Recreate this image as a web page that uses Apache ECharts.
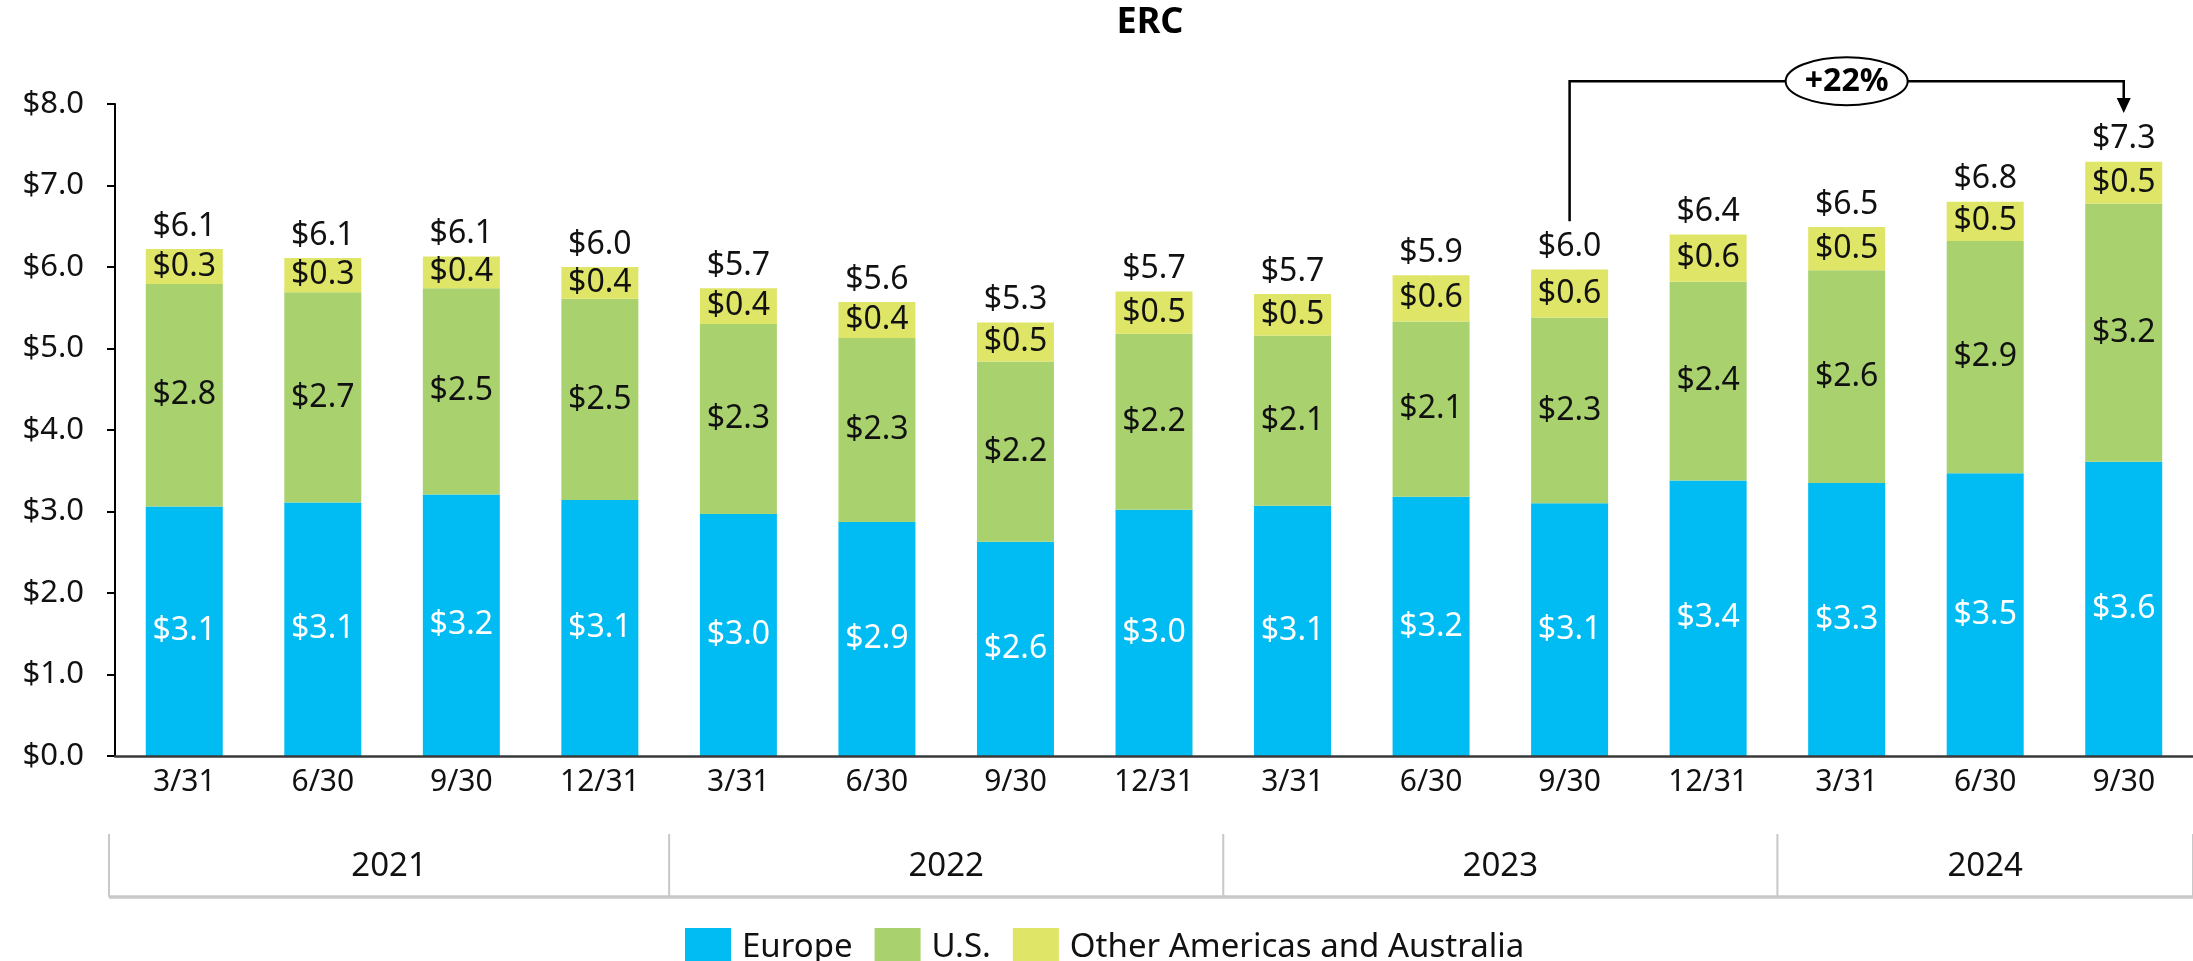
<!DOCTYPE html>
<html>
<head>
<meta charset="utf-8">
<script src="https://cdn.jsdelivr.net/npm/echarts@6/dist/echarts.min.js"></script>
<style>
html,body{margin:0;padding:0;background:#ffffff;}
#c{width:2193px;height:961px;}
</style>
</head>
<body>
<div id="c"></div>
<script>
// ---------- data ----------
const categories = ['3/31','6/30','9/30','12/31','3/31','6/30','9/30','12/31','3/31','6/30','9/30','12/31','3/31','6/30','9/30'];
const years = ['2021','2022','2023','2024'];
const quartersPerYear = [4, 4, 4, 3];

// segment heights as drawn in the picture
const europe = [3.06, 3.11, 3.21, 3.14, 2.97, 2.87, 2.63, 3.02, 3.07, 3.18, 3.10, 3.38, 3.35, 3.47, 3.61];
const us     = [2.73, 2.58, 2.53, 2.47, 2.33, 2.26, 2.21, 2.16, 2.09, 2.15, 2.28, 2.44, 2.61, 2.85, 3.17];
const other  = [0.43, 0.42, 0.39, 0.39, 0.44, 0.44, 0.48, 0.52, 0.51, 0.57, 0.59, 0.58, 0.53, 0.48, 0.51];

// printed labels
const europeLabels = ['$3.1','$3.1','$3.2','$3.1','$3.0','$2.9','$2.6','$3.0','$3.1','$3.2','$3.1','$3.4','$3.3','$3.5','$3.6'];
const usLabels     = ['$2.8','$2.7','$2.5','$2.5','$2.3','$2.3','$2.2','$2.2','$2.1','$2.1','$2.3','$2.4','$2.6','$2.9','$3.2'];
const otherLabels  = ['$0.3','$0.3','$0.4','$0.4','$0.4','$0.4','$0.5','$0.5','$0.5','$0.6','$0.6','$0.6','$0.5','$0.5','$0.5'];
const totalLabels  = ['$6.1','$6.1','$6.1','$6.0','$5.7','$5.6','$5.3','$5.7','$5.7','$5.9','$6.0','$6.4','$6.5','$6.8','$7.3'];

const seriesNames = ['Europe', 'U.S.', 'Other Americas and Australia'];
const colors = ['#00BCF2', '#A9D26F', '#DFE566'];

const growthLabel = '+22%';
const growthFromIndex = 10;
const growthToIndex = 14;
// annotation bracket levels in axis units
const bracketTop = 8.28, bracketStart = 6.56, bracketTip = 7.89;

// ---------- chart ----------
const FONT = '"Noto Sans", "Open Sans", sans-serif';
const totals = europe.map((v, i) => +(v + us[i] + other[i]).toFixed(3));

const chart = echarts.init(document.getElementById('c'), null, { renderer: 'canvas' });

function barSeries(name, data, labels, color, labelColor) {
  return {
    name: name,
    type: 'bar',
    stack: 'erc',
    data: data,
    barWidth: 77,
    itemStyle: { color: color },
    label: {
      show: true,
      position: 'inside',
      formatter: p => labels[p.dataIndex],
      fontFamily: FONT,
      fontSize: 32,
      color: labelColor
    },
    emphasis: { disabled: true }
  };
}

const option = {
  animation: false,
  backgroundColor: '#ffffff',
  grid: { left: 115, top: 104, width: 2081, height: 652 },
  legend: {
    data: seriesNames,
    top: 923,
    left: 680,
    icon: 'rect',
    itemWidth: 46,
    itemHeight: 40,
    itemGap: 22,
    textStyle: { fontFamily: FONT, fontSize: 33, color: '#111', padding: [0, 0, 0, 6] },
    selectedMode: false
  },
  xAxis: {
    type: 'category',
    data: categories,
    axisLine: { lineStyle: { color: '#3a3a3a', width: 2.5 } },
    axisTick: { show: false },
    axisLabel: { fontFamily: FONT, fontSize: 30, color: '#111', margin: 11 },
    z: 5
  },
  yAxis: {
    type: 'value',
    min: 0,
    max: 8,
    interval: 1,
    axisLine: { show: true, lineStyle: { color: '#000', width: 2 } },
    axisTick: { show: true, length: 8, lineStyle: { color: '#000', width: 2 } },
    splitLine: { show: false },
    axisLabel: {
      fontFamily: FONT, fontSize: 31, color: '#111', margin: 31,
      formatter: v => '$' + v.toFixed(1)
    }
  },
  series: [
    barSeries(seriesNames[0], europe, europeLabels, colors[0], '#ffffff'),
    barSeries(seriesNames[1], us, usLabels, colors[1], '#111111'),
    barSeries(seriesNames[2], other, otherLabels, colors[2], '#111111'),
    {
      name: 'Total',
      type: 'scatter',
      data: totals,
      symbolSize: 1,
      itemStyle: { color: '#ffffff', opacity: 1 },
      label: {
        show: true,
        position: 'top',
        distance: 6,
        formatter: p => totalLabels[p.dataIndex],
        fontFamily: FONT,
        fontSize: 32,
        color: '#111111',
        opacity: 1
      },
      emphasis: { disabled: true },
      z: 10
    }
  ]
};

chart.setOption(option);

// ---------- decorations positioned through the axes ----------
function px(i) { return chart.convertToPixel({ xAxisIndex: 0 }, i); }
function py(v) { return chart.convertToPixel({ yAxisIndex: 0 }, v); }

const step = px(1) - px(0);
const graphics = [];

// title, centred over the plot
graphics.push({
  type: 'text',
  style: {
    text: 'ERC', x: (px(0) + px(categories.length - 1)) / 2 - 4, y: 23,
    align: 'center', verticalAlign: 'middle',
    fontFamily: FONT, fontSize: 36, fontWeight: 'bold', fill: '#000'
  }
});

// year band
const bandTop = 834, bandBottom = 897;
const bandLeft = px(0) - step / 2 - 6;
const bandRight = px(categories.length - 1) + step / 2;
const bandColor = '#c8c8c8';
let startIdx = 0;
const edges = [bandLeft];
years.forEach((y, k) => {
  const endIdx = startIdx + quartersPerYear[k] - 1;
  const left = k === 0 ? bandLeft : (px(startIdx - 1) + px(startIdx)) / 2;
  const right = k === years.length - 1 ? bandRight : (px(endIdx) + px(endIdx + 1)) / 2;
  edges.push(right);
  graphics.push({
    type: 'text',
    style: {
      text: y, x: (left + right) / 2, y: (bandTop + bandBottom) / 2 + 1,
      align: 'center', verticalAlign: 'middle',
      fontFamily: FONT, fontSize: 33, fill: '#111'
    }
  });
  startIdx = endIdx + 1;
});
edges.forEach(x => {
  graphics.push({
    type: 'line',
    shape: { x1: x, y1: bandTop, x2: x, y2: bandBottom },
    style: { stroke: bandColor, lineWidth: 2 }
  });
});
graphics.push({
  type: 'line',
  shape: { x1: bandLeft, y1: bandBottom, x2: bandRight + 4, y2: bandBottom },
  style: { stroke: bandColor, lineWidth: 3.5 }
});

// growth bracket
const gx1 = px(growthFromIndex), gx2 = px(growthToIndex);
const gxm = (gx1 + gx2) / 2;
const gyTop = py(bracketTop), gyStart = py(bracketStart), gyTip = py(bracketTip);
graphics.push({
  type: 'polyline',
  shape: { points: [[gx1, gyStart], [gx1, gyTop], [gx2, gyTop], [gx2, gyTip - 12]] },
  style: { stroke: '#000', lineWidth: 2.5, fill: null }
});
graphics.push({
  type: 'polygon',
  shape: { points: [[gx2 - 7, gyTip - 15], [gx2 + 7, gyTip - 15], [gx2, gyTip]] },
  style: { fill: '#000' }
});
graphics.push({
  type: 'ellipse',
  shape: { cx: gxm, cy: gyTop, rx: 61, ry: 24 },
  style: { fill: '#fff', stroke: '#000', lineWidth: 2 },
  z: 10
});
graphics.push({
  type: 'text',
  style: {
    text: growthLabel, x: gxm, y: gyTop + 1,
    align: 'center', verticalAlign: 'middle',
    fontFamily: FONT, fontSize: 32, fontWeight: 'bold', fill: '#000'
  },
  z: 11
});

chart.setOption({ graphic: graphics });
</script>
</body>
</html>
